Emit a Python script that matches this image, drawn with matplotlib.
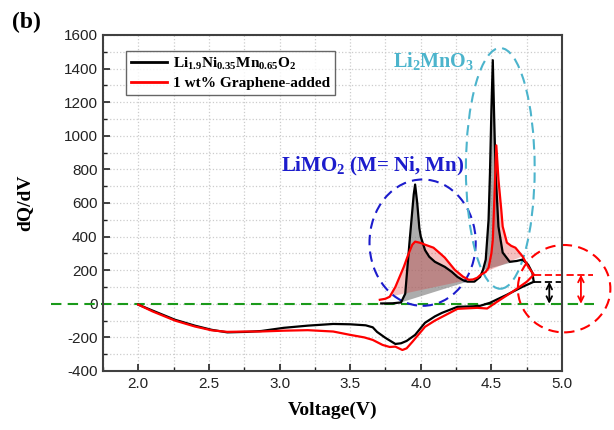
import numpy as np
import matplotlib
matplotlib.use('Agg')
from matplotlib import pyplot as plt
from matplotlib.patches import Ellipse

# charge curves (V, dQ/dV)
chg_v_pristine = [3.72, 3.80, 3.86, 3.89, 3.92, 3.95, 3.96, 3.975, 3.99, 4.00, 4.03, 4.06, 4.10, 4.17,
                  4.22, 4.26, 4.30, 4.33, 4.38, 4.42, 4.44, 4.46, 4.48, 4.49, 4.50, 4.51, 4.52, 4.53,
                  4.55, 4.58, 4.63, 4.68, 4.72, 4.76, 4.79, 4.80]
chg_q_pristine = [2, 3, 8, 60, 364, 650, 710, 600, 450, 400, 320, 280, 250, 220,
                  190, 160, 140, 132, 132, 160, 200, 263, 500, 780, 1150, 1450, 1100, 780,
                  460, 305, 250, 255, 263, 233, 185, 131]

chg_v_graphene = [3.71, 3.75, 3.78, 3.82, 3.85, 3.88, 3.91, 3.94, 3.96, 4.00, 4.03, 4.09, 4.13, 4.17,
                  4.24, 4.30, 4.34, 4.37, 4.40, 4.42, 4.46, 4.48, 4.50, 4.51, 4.52, 4.535, 4.55, 4.57,
                  4.58, 4.61, 4.64, 4.67, 4.72, 4.76, 4.79, 4.80]
chg_q_graphene = [24, 30, 42, 100, 160, 220, 290, 352, 370, 362, 352, 334, 305, 275,
                  203, 161, 143, 145, 155, 170, 190, 215, 300, 380, 600, 943, 740, 560,
                  460, 364, 345, 334, 283, 222, 185, 173]

# discharge curves
dis_v_pristine = [2.00, 2.10, 2.26, 2.40, 2.52, 2.63, 2.77, 2.87, 3.03, 3.20, 3.38, 3.50, 3.61, 3.66,
                  3.69, 3.75, 3.82, 3.86, 3.90, 3.96, 4.03, 4.10, 4.15, 4.26, 4.37, 4.42, 4.49, 4.61,
                  4.72, 4.80]
dis_q_pristine = [-5, -40, -95, -130, -155, -170, -167, -162, -143, -130, -120, -122, -128, -140,
                  -167, -203, -239, -235, -221, -185, -113, -75, -54, -18, -15, -12, 6, 54,
                  101, 131]

dis_v_graphene = [2.00, 2.10, 2.26, 2.40, 2.52, 2.63, 2.77, 2.86, 3.03, 3.20, 3.38, 3.50, 3.60, 3.66,
                  3.73, 3.78, 3.82, 3.87, 3.90, 3.94, 4.03, 4.10, 4.15, 4.26, 4.40, 4.47, 4.54, 4.65,
                  4.75, 4.80]
dis_q_graphene = [-5, -45, -100, -135, -158, -167, -165, -165, -160, -157, -165, -185, -200, -215,
                  -245, -257, -255, -275, -265, -227, -137, -100, -78, -30, -24, -28, 12, 72,
                  131, 173]

# shaded peak windows (V range of each shaded region)
peak_windows_pristine = [(3.86, 4.36), (4.43, 4.72)]
peak_windows_graphene = [(3.78, 4.36), (4.43, 4.72)]

label_pristine = r'Li$_{1.9}$Ni$_{0.35}$Mn$_{0.65}$O$_{2}$'
label_graphene = '1 wt% Graphene-added'

plt.rcParams['mathtext.fontset'] = 'custom'
plt.rcParams['mathtext.rm'] = 'Liberation Serif:bold'
plt.rcParams['mathtext.it'] = 'Liberation Serif:bold'
plt.rcParams['mathtext.bf'] = 'Liberation Serif:bold'
plt.rcParams['axes.unicode_minus'] = False

fig = plt.figure(figsize=(6.14, 4.30), dpi=100)
ax = fig.add_axes([103 / 614, 59 / 430, 459 / 614, 336 / 430])

# shading under the peaks
for v, q, windows, col, a in [(chg_v_pristine, chg_q_pristine, peak_windows_pristine, '#808080', 0.65),
                              (chg_v_graphene, chg_q_graphene, peak_windows_graphene, '#e03030', 0.3)]:
    v = np.array(v)
    q = np.array(q)
    for lo, hi in windows:
        m = (v >= lo) & (v <= hi)
        ax.fill(v[m], q[m], color=col, alpha=a, lw=0)

ax.plot(chg_v_pristine, chg_q_pristine, color='black', lw=1.6, label=label_pristine)
ax.plot(dis_v_pristine, dis_q_pristine, color='black', lw=1.6)
ax.plot(chg_v_graphene, chg_q_graphene, color='red', lw=1.6, label=label_graphene)
ax.plot(dis_v_graphene, dis_q_graphene, color='red', lw=1.6)

# zero line, runs past the axes
ax.plot([1.38, 5.23], [0, 0], color='#1a9a1a', lw=1.5, ls=(0, (5, 3)), clip_on=False, zorder=1)

# annotation circles
ax.add_patch(Ellipse((4.013, 364), 0.752, 752, fill=False, ec='#1c1ccc', lw=1.5, ls=(0, (5, 3))))
ax.add_patch(Ellipse((4.563, 806), 0.487, 1433, fill=False, ec='#4cb4cc', lw=1.5, ls=(0, (5, 3))))
ax.add_patch(Ellipse((5.015, 90), 0.655, 520, fill=False, ec='red', lw=1.5, ls=(0, (5, 3)),
                     clip_on=False))

# offset markers at end of charge
ax.plot([4.80, 5.02], [131, 131], color='black', lw=1.3, ls=(0, (4, 2)), clip_on=False)
ax.plot([4.80, 5.22], [173, 173], color='red', lw=1.3, ls=(0, (4, 2)), clip_on=False)
ax.annotate('', xy=(4.91, 0), xytext=(4.91, 131), annotation_clip=False,
            arrowprops=dict(arrowstyle='<->', color='black', lw=1.3, shrinkA=0, shrinkB=0))
ax.annotate('', xy=(5.134, 0), xytext=(5.134, 173), annotation_clip=False,
            arrowprops=dict(arrowstyle='<->', color='red', lw=1.3, shrinkA=0, shrinkB=0))

ax.text(4.09, 1445, r'Li$_2$MnO$_3$', color='#4cb4cc', fontsize=14.5, fontweight='bold',
        family='Liberation Serif', ha='center', va='center')
ax.text(3.66, 818, r'LiMO$_2$ (M= Ni, Mn)', color='#1c1ccc', fontsize=15, fontweight='bold',
        family='Liberation Serif', ha='center', va='center')

ax.set_xlim(1.8, 5.0)
ax.set_ylim(-400, 1600)
ax.set_xticks(np.arange(2.0, 5.01, 0.5))
ax.set_xticks(np.arange(1.75, 5.01, 0.25), minor=True)
ax.set_yticks(np.arange(-400, 1601, 200))
ax.set_yticks(np.arange(-400, 1601, 100), minor=True)
ax.set_xticklabels(['%.1f' % t for t in np.arange(2.0, 5.01, 0.5)])
ax.grid(True, which='both', color='#cccccc', ls=':', lw=0.9)
ax.set_axisbelow(True)
ax.tick_params(which='both', direction='in', labelsize=11, colors='#222222', pad=4)
ax.tick_params(which='major', length=5, width=1.2)
ax.tick_params(which='minor', length=3, width=1.0)
for lab in ax.get_xticklabels() + ax.get_yticklabels():
    lab.set_family('Liberation Sans')
for sp in ax.spines.values():
    sp.set_color('#404040')
    sp.set_linewidth(1.5)

ax.set_xlabel('Voltage(V)', fontsize=14, fontweight='bold', family='Liberation Serif', labelpad=8)
ax.set_ylabel('dQ/dV', fontsize=14, fontweight='bold', family='Liberation Serif', labelpad=22)
fig.text(26 / 614, 1 - 22 / 430, '(b)', fontsize=17, fontweight='bold', family='Liberation Serif',
         ha='center', va='center')

leg = ax.legend(loc='upper left', bbox_to_anchor=(0.05, 0.952), frameon=True, fancybox=False,
                prop={'family': 'Liberation Serif', 'weight': 'bold', 'size': 11},
                handlelength=2.4, borderpad=0.3, labelspacing=0.3, handletextpad=0.4,
                borderaxespad=0)
leg.get_frame().set_edgecolor('#404040')
leg.get_frame().set_linewidth(1.0)
for ln in leg.get_lines():
    ln.set_linewidth(2.0)

fig.savefig('out.png', dpi=100)
